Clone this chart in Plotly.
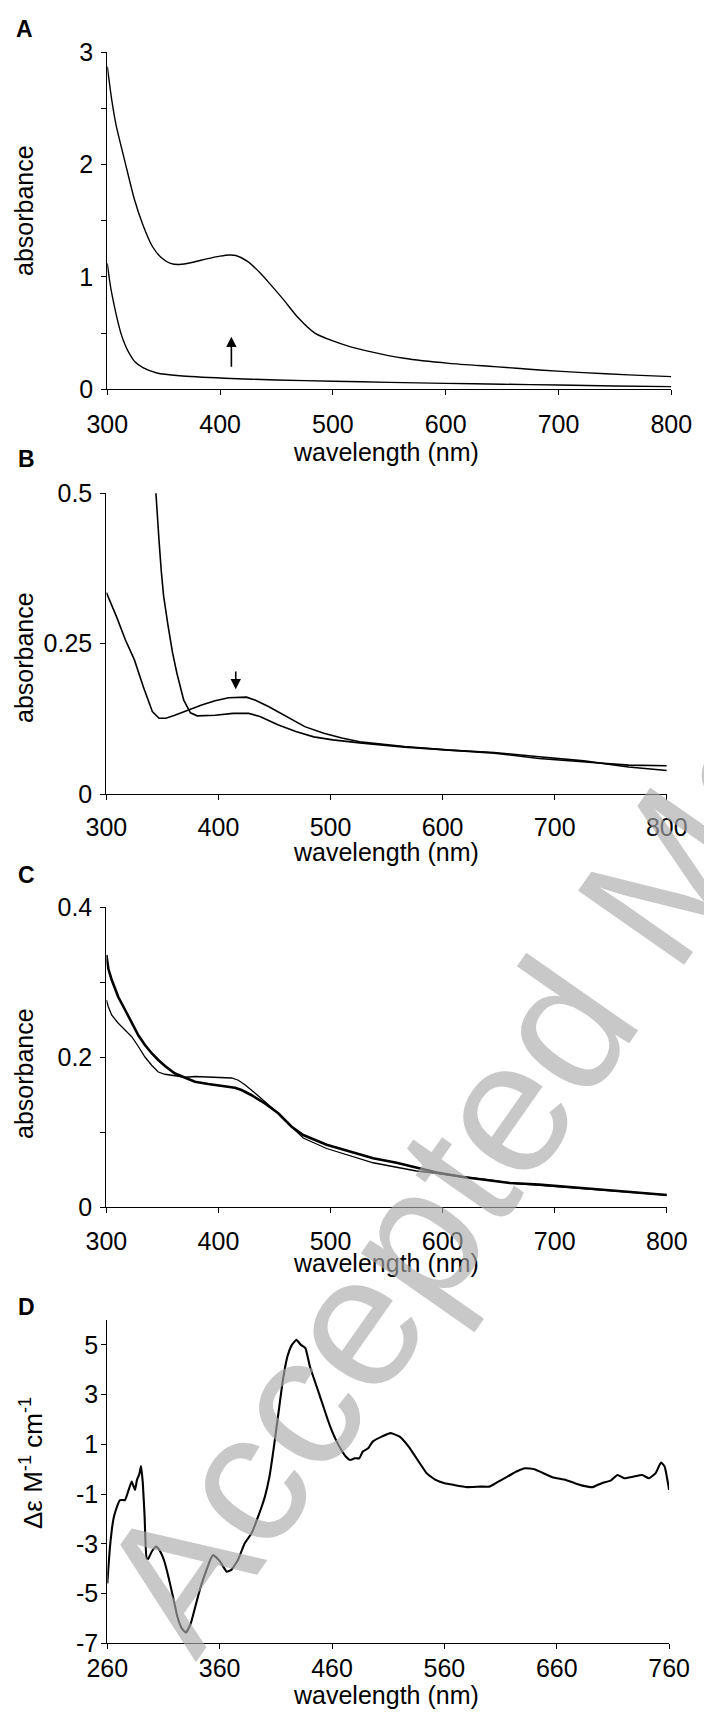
import plotly.graph_objects as go

W, H = 704, 1713
FONT = "Liberation Sans, Arial, sans-serif"

# ---------------- data ----------------
# Panel A: absorbance spectra
a_top_wl = [300, 304, 308, 316, 324, 332, 340, 348, 356, 364, 376, 388, 400, 408, 414, 424, 436, 444,
            456, 468, 484, 500, 515, 531, 563, 603, 643, 683, 722, 762, 800]
a_top_abs = [2.87, 2.57, 2.34, 2.01, 1.69, 1.45, 1.27, 1.17, 1.12, 1.11, 1.13, 1.16, 1.185, 1.195, 1.19,
             1.14, 1.03, 0.94, 0.80, 0.65, 0.50, 0.43, 0.38, 0.34, 0.276, 0.231, 0.202, 0.172, 0.148,
             0.128, 0.113]
a_low_wl = [300, 302, 304, 308, 312, 316, 320, 324, 332, 344, 364, 404, 450, 500, 550, 600, 650, 700,
            750, 800]
a_low_abs = [1.12, 0.97, 0.85, 0.66, 0.50, 0.39, 0.31, 0.25, 0.19, 0.145, 0.12, 0.098, 0.083, 0.072,
             0.062, 0.053, 0.045, 0.038, 0.030, 0.024]

# Panel B
b1_wl = [300, 309, 317, 325, 333, 341, 347, 353, 361, 373, 385, 397, 409, 425, 433, 445, 461, 477, 494,
         510, 526, 566, 606, 646, 686, 726, 766, 800]
b1_abs = [0.335, 0.295, 0.256, 0.223, 0.178, 0.137, 0.126, 0.126, 0.131, 0.140, 0.148, 0.155, 0.160,
          0.161, 0.156, 0.145, 0.129, 0.112, 0.101, 0.093, 0.087, 0.079, 0.073, 0.068, 0.059, 0.054,
          0.048, 0.047]
b2_wl = [343.5, 345, 347, 349, 351, 355, 359, 363, 369, 375, 381, 397, 413, 427, 437, 453, 469, 485, 502,
         526, 566, 606, 646, 686, 726, 766, 800]
b2_abs = [0.52, 0.47, 0.42, 0.37, 0.33, 0.28, 0.235, 0.20, 0.156, 0.135, 0.130, 0.131, 0.134, 0.134,
          0.129, 0.115, 0.104, 0.095, 0.090, 0.085, 0.078, 0.073, 0.069, 0.062, 0.055, 0.045, 0.039]

# Panel C
c_thick_wl = [300, 301.7, 304.7, 310.6, 316.6, 322.6, 328.5, 334.4, 340.4, 346.3, 352.3, 361.2, 370.1,
              379, 390.9, 402.8, 414.7, 420.6, 429.6, 441.5, 453.3, 465.3, 475.6, 496.5, 517.3, 538,
              558.9, 576.7, 594.6, 618.3, 642.1, 660, 686, 726, 766, 800]
c_thick_abs = [0.336, 0.318, 0.303, 0.280, 0.263, 0.245, 0.229, 0.216, 0.205, 0.196, 0.188, 0.178, 0.172,
               0.167, 0.164, 0.162, 0.159, 0.156, 0.149, 0.138, 0.125, 0.107, 0.096, 0.083, 0.074,
               0.065, 0.059, 0.053, 0.046, 0.040, 0.036, 0.032, 0.030, 0.025, 0.020, 0.016]
c_thin_wl = [300, 301.7, 304.7, 310.6, 316.6, 322.6, 328.5, 334.4, 340.4, 346.3, 352.3, 361.2, 370.1,
             379, 390.9, 402.8, 411.7, 417.7, 423.6, 432.5, 441.5, 453.3, 465.3, 475.6, 496.5, 517.3,
             538, 558.9, 576.7, 594.6, 618.3, 642.1, 660, 686, 726, 766, 800]
c_thin_abs = [0.276, 0.267, 0.256, 0.245, 0.236, 0.227, 0.214, 0.200, 0.189, 0.180, 0.177, 0.175, 0.173,
              0.174, 0.173, 0.172, 0.172, 0.169, 0.163, 0.152, 0.140, 0.125, 0.107, 0.092, 0.078,
              0.068, 0.059, 0.053, 0.048, 0.045, 0.040, 0.036, 0.032, 0.029, 0.024, 0.020, 0.016]

# Panel D: CD spectrum
d_wl = [260, 262.4, 265.3, 267.6, 271.3, 275.8, 278.5, 281.7, 284.7, 286.4, 288.5, 290.0, 291.6, 293.2,
        295.0, 296.4, 299.6, 303.3, 306.4, 310.4, 314.4, 318.4, 322.4, 326.3, 330.0, 334.3, 338.3,
        342.3, 348.3, 352.3, 354.3, 360.3, 366.3, 370.3, 376.3, 382.3, 388.3, 394.3, 400.3, 404.3,
        408.3, 412.3, 416.3, 420.3, 424.3, 428.3, 432.3, 436.3, 440.3, 444.3, 448.3, 452.3, 456.3,
        460.2, 464.2, 468.2, 472.2, 476.2, 480.2, 484.2, 487.4, 492.2, 496.2, 504.2, 512.2, 520.2,
        528.2, 536.2, 544.2, 552.2, 560.2, 568.2, 580.1, 592.1, 600.1, 608.1, 616.1, 624.1, 632.1,
        640.1, 648.1, 656.1, 668.1, 676.1, 684.1, 692.0, 700.0, 708.0, 714.0, 720.0, 728.0, 736.0,
        742.1, 748.0, 752.8, 756.0, 760.0]
d_val = [-4.59, -3.11, -2.04, -1.64, -1.24, -1.24, -0.90, -0.50, -0.83, -0.43, -0.20, 0.13, -0.56, -1.90,
         -3.58, -3.60, -3.31, -3.11, -3.25, -3.65, -4.32, -5.12, -5.93, -6.40, -6.57, -6.20, -5.53,
         -4.85, -4.05, -3.58, -3.45, -3.71, -4.12, -4.05, -3.65, -2.98, -2.58, -1.90, -1.10, -0.30,
         0.91, 2.25, 3.59, 4.53, 5.00, 5.20, 5.00, 4.87, 4.13, 3.59, 3.06, 2.52, 1.98, 1.51, 1.11,
         0.78, 0.51, 0.37, 0.44, 0.44, 0.71, 0.84, 1.11, 1.31, 1.45, 1.31, 0.91, 0.37, -0.16, -0.43,
         -0.56, -0.63, -0.72, -0.70, -0.70, -0.50, -0.30, -0.09, 0.04, 0.00, -0.16, -0.32, -0.43,
         -0.56, -0.67, -0.72, -0.56, -0.46, -0.23, -0.36, -0.30, -0.23, -0.36, -0.16, 0.27, 0.11,
         -0.83]

# ticks
abs_x_ticks = [300, 400, 500, 600, 700, 800]
cd_x_ticks = [260, 360, 460, 560, 660, 760]
a_y_ticks = [0, 1, 2, 3]
b_y_ticks = [0, 0.25, 0.5]
c_y_ticks = [0, 0.2, 0.4]
d_y_ticks = [-7, -5, -3, -1, 1, 3, 5]
a_y_minor_step = 0.5
c_y_minor_step = 0.1


def fx(p):
    return p / W


def fy(p):
    return 1 - p / H


fig = go.Figure()
fig.add_trace(go.Scatter(x=a_top_wl, y=a_top_abs, mode="lines",
                         line=dict(color="black", width=1.4, shape="spline", smoothing=0.6),
                         xaxis="x", yaxis="y"))
fig.add_trace(go.Scatter(x=a_low_wl, y=a_low_abs, mode="lines",
                         line=dict(color="black", width=1.4, shape="spline", smoothing=0.6),
                         xaxis="x", yaxis="y"))
fig.add_trace(go.Scatter(x=b1_wl, y=b1_abs, mode="lines", line=dict(color="black", width=1.6),
                         xaxis="x2", yaxis="y2"))
fig.add_trace(go.Scatter(x=b2_wl, y=b2_abs, mode="lines", line=dict(color="black", width=1.6),
                         xaxis="x2", yaxis="y2"))
fig.add_trace(go.Scatter(x=c_thin_wl, y=c_thin_abs, mode="lines", line=dict(color="black", width=1.3),
                         xaxis="x3", yaxis="y3"))
fig.add_trace(go.Scatter(x=c_thick_wl, y=c_thick_abs, mode="lines", line=dict(color="black", width=2.6),
                         xaxis="x3", yaxis="y3"))
fig.add_trace(go.Scatter(x=d_wl, y=d_val, mode="lines",
                         line=dict(color="black", width=2.1, shape="spline", smoothing=0.4),
                         xaxis="x4", yaxis="y4"))

tickfont = dict(family=FONT, size=25, color="black")
common = dict(showline=True, linecolor="black", linewidth=1.3, ticks="outside", ticklen=5,
              tickwidth=1.3, tickcolor="black", showgrid=False, zeroline=False,
              tickfont=tickfont, fixedrange=True, automargin=False)

panels = [
    (107.3, 671.3, 52.0, 389.3),
    (106.4, 666.8, 493.3, 794.0),
    (106.4, 666.8, 907.0, 1207.0),
    (107.3, 669.1, 1320.0, 1643.3),
]
xranges = [[300, 800], [300, 800], [300, 800], [260, 760]]
yranges = [[0, 3], [0, 0.5], [0, 0.4], [-7, 6]]
xticks = [abs_x_ticks, abs_x_ticks, abs_x_ticks, cd_x_ticks]
yticks = [a_y_ticks, b_y_ticks, c_y_ticks, d_y_ticks]
yminor = [a_y_minor_step, None, c_y_minor_step, None]
x_standoff = [8, 6, 7, -2]
y_standoff = [3, 3, 3, -2]

lay = {}
for i, (xl, xr, yt, yb) in enumerate(panels):
    sfx = "" if i == 0 else str(i + 1)
    lay["xaxis" + sfx] = dict(common, domain=[fx(xl), fx(xr)], range=xranges[i],
                              tickvals=xticks[i], ticktext=[str(v) for v in xticks[i]],
                              anchor="y" + sfx, ticklabelstandoff=x_standoff[i])
    ya = dict(common, domain=[fy(yb), fy(yt)], range=yranges[i],
              tickvals=yticks[i], ticktext=[("%g" % v) for v in yticks[i]],
              anchor="x" + sfx, ticklabelstandoff=y_standoff[i])
    if yminor[i] is not None:
        ya["minor"] = dict(ticks="outside", ticklen=5, tickwidth=1.3, tickcolor="black",
                           tick0=0, dtick=yminor[i], showgrid=False)
    lay["yaxis" + sfx] = ya

ann = []
for letter, (px, py) in zip("ABCD", [(24, 29), (26, 459), (26, 875), (26, 1307)]):
    ann.append(dict(text="<b>%s</b>" % letter, x=fx(px), y=fy(py), xref="paper", yref="paper",
                    showarrow=False, xanchor="center", yanchor="middle",
                    font=dict(family=FONT, size=23, color="black")))
for py in [452, 852, 1263, 1695]:
    ann.append(dict(text="wavelength (nm)", x=fx(386), y=fy(py), xref="paper", yref="paper",
                    showarrow=False, xanchor="center", yanchor="middle",
                    font=dict(family=FONT, size=25, color="black")))
for py in [211, 658, 1074]:
    ann.append(dict(text="absorbance", x=fx(24), y=fy(py), xref="paper", yref="paper",
                    showarrow=False, xanchor="center", yanchor="middle", textangle=-90,
                    font=dict(family=FONT, size=25, color="black")))
ann.append(dict(text="Δε M<sup>-1</sup> cm<sup>-1</sup>", x=fx(31), y=fy(1463), xref="paper",
                yref="paper", showarrow=False, xanchor="center", yanchor="middle", textangle=-90,
                font=dict(family=FONT, size=26, color="black")))
# arrows marking the 410 nm band
ann.append(dict(x=410, y=0.468, ax=410, ay=0.187, xref="x", yref="y", axref="x", ayref="y",
                text="", showarrow=True, arrowhead=2, arrowsize=1.3, arrowwidth=1.6,
                arrowcolor="black", standoff=0))
ann.append(dict(x=415.4, y=0.174, ax=415.4, ay=0.206, xref="x2", yref="y2", axref="x2", ayref="y2",
                text="", showarrow=True, arrowhead=2, arrowsize=1.3, arrowwidth=1.6,
                arrowcolor="black", standoff=0))
# watermark
ann.append(dict(text="Accepted Manuscript", x=fx(646), y=fy(906), xref="paper", yref="paper",
                showarrow=False, xanchor="center", yanchor="middle", textangle=-55,
                font=dict(family=FONT, size=188, color="rgba(170,170,170,0.65)")))

fig.update_layout(
    width=W, height=H, margin=dict(l=0, r=0, t=0, b=0, pad=0, autoexpand=False),
    paper_bgcolor="white", plot_bgcolor="white", showlegend=False,
    annotations=ann, **lay,
)

fig.write_html("out.html", config={"displayModeBar": False},
               post_script="document.body.style.margin='0px';")
